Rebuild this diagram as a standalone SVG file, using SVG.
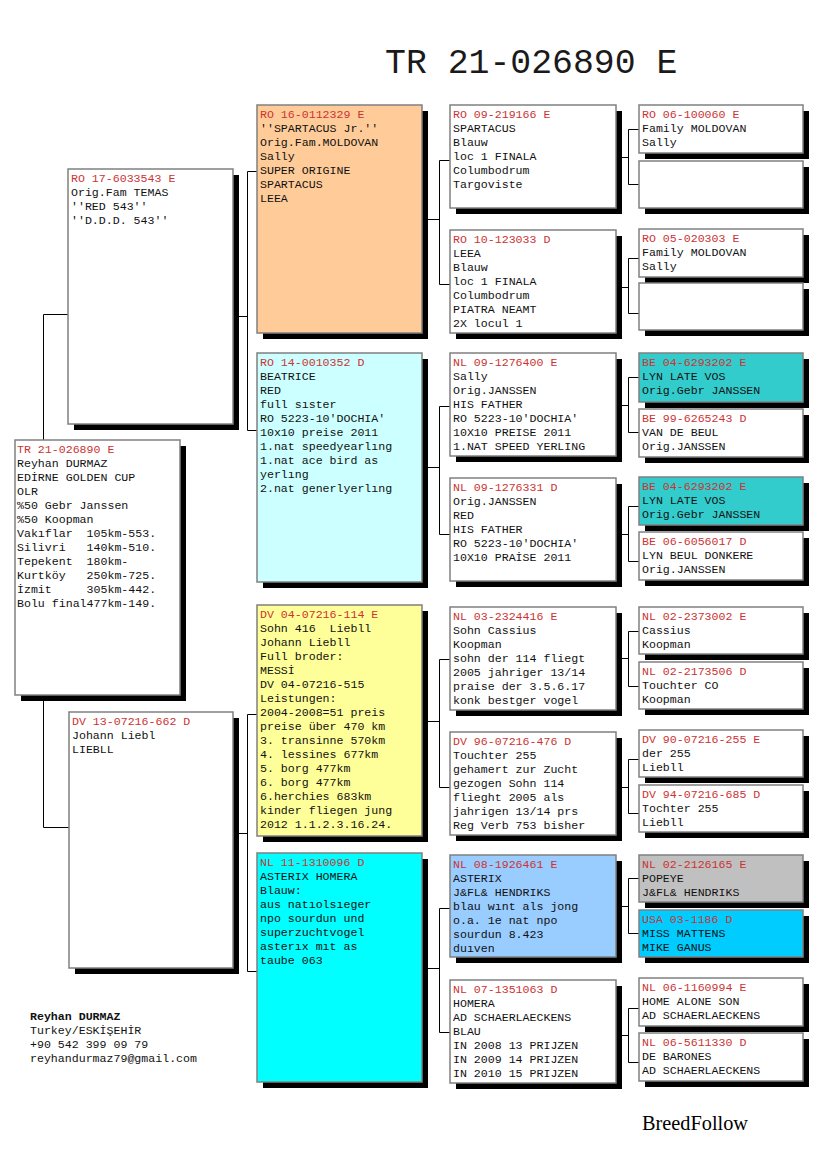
<svg xmlns="http://www.w3.org/2000/svg" width="825" height="1172" viewBox="0 0 825 1172">
<style>
.sh{fill:#000}
.bx{stroke:#808080;stroke-width:1.5;fill:#fff}
.t{font-family:"Liberation Mono","Courier New",monospace;font-size:11.6px;fill:#111;white-space:pre}
.r{fill:#cc3333}
.c{stroke:#000;stroke-width:1;fill:none}
.title{font-family:"Liberation Mono","Courier New",monospace;font-size:34.8px;fill:#1a1a1a}
.brand{font-family:"Liberation Serif","Times New Roman",serif;font-size:20px;fill:#000}
</style>
<rect width="825" height="1172" fill="#fff"/>
<text class="title" x="385" y="73">TR 21-026890 E</text>

<g id="connectors">
<path class="c" d="M68,314.5H43.5V827.5H69"/>
<path class="c" d="M239,316.5H247.5 M257,171.5H247.5V430.5H257"/>
<path class="c" d="M239,833.5H247.5 M257,714.5H247.5V971.5H257"/>
<path class="c" d="M428,219.5H439.5 M450,160.5H439.5V284.5H450"/>
<path class="c" d="M428,467.5H439.5 M450,406.5H439.5V534.5H450"/>
<path class="c" d="M428,721.5H439.5 M450,659.5H439.5V787.5H450"/>
<path class="c" d="M428,968.5H439.5 M450,908.5H439.5V1032.5H450"/>
<path class="c" d="M621,157.5H628.5 M639,129.5H628.5V184.5H639"/>
<path class="c" d="M621,287.5H628.5 M639,258.5H628.5V313.5H639"/>
<path class="c" d="M621,405.5H628.5 M639,377.5H628.5V432.5H639"/>
<path class="c" d="M621,534.5H628.5 M639,506.5H628.5V561.5H639"/>
<path class="c" d="M621,658.5H628.5 M639,631.5H628.5V686.5H639"/>
<path class="c" d="M621,787.5H628.5 M639,759.5H628.5V813.5H639"/>
<path class="c" d="M621,906.5H628.5 M639,878.5H628.5V933.5H639"/>
<path class="c" d="M621,1035.5H628.5 M639,1008.5H628.5V1062.5H639"/>
</g>

<g id="root">
<rect class="sh" x="21" y="446" width="165" height="255"/>
<rect class="bx" x="15" y="440" width="165" height="255"/>
<text class="t" x="17" y="453"><tspan class="r">TR 21-026890 E</tspan><tspan x="17" dy="14">Reyhan DURMAZ</tspan><tspan x="17" dy="14">EDİRNE GOLDEN CUP</tspan><tspan x="17" dy="14">OLR</tspan><tspan x="17" dy="14">%50 Gebr Janssen</tspan><tspan x="17" dy="14">%50 Koopman</tspan><tspan x="17" dy="14">Vakıflar  105km-553.</tspan><tspan x="17" dy="14">Silivri   140km-510.</tspan><tspan x="17" dy="14">Tepekent  180km-</tspan><tspan x="17" dy="14">Kurtköy   250km-725.</tspan><tspan x="17" dy="14">İzmit     305km-442.</tspan><tspan x="17" dy="14">Bolu final477km-149.</tspan></text>
</g>

<g id="sire">
<rect class="sh" x="74" y="175" width="165" height="255"/>
<rect class="bx" x="68" y="169" width="165" height="255"/>
<text class="t" x="71" y="182"><tspan class="r">RO 17-6033543 E</tspan><tspan x="71" dy="14">Orig.Fam TEMAS</tspan><tspan x="71" dy="14">''RED 543''</tspan><tspan x="71" dy="14">''D.D.D. 543''</tspan></text>
</g>

<g id="dam">
<rect class="sh" x="75" y="718" width="164" height="256"/>
<rect class="bx" x="69" y="712" width="164" height="256"/>
<text class="t" x="72" y="725"><tspan class="r">DV 13-07216-662 D</tspan><tspan x="72" dy="14">Johann Liebl</tspan><tspan x="72" dy="14">LIEBLL</tspan></text>
</g>

<g id="ss">
<rect class="sh" x="263" y="111" width="165" height="228"/>
<rect class="bx" x="257" y="105" width="165" height="228" fill="#ffcc99" style="fill:#ffcc99"/>
<text class="t" x="260" y="118"><tspan class="r">RO 16-0112329 E</tspan><tspan x="260" dy="14">''SPARTACUS Jr.''</tspan><tspan x="260" dy="14">Orig.Fam.MOLDOVAN</tspan><tspan x="260" dy="14">Sally</tspan><tspan x="260" dy="14">SUPER ORIGINE</tspan><tspan x="260" dy="14">SPARTACUS</tspan><tspan x="260" dy="14">LEEA</tspan></text>
</g>

<g id="sd">
<rect class="sh" x="263" y="359" width="165" height="229"/>
<rect class="bx" x="257" y="353" width="165" height="229" style="fill:#ccffff"/>
<text class="t" x="260" y="366"><tspan class="r">RO 14-0010352 D</tspan><tspan x="260" dy="14">BEATRICE</tspan><tspan x="260" dy="14">RED</tspan><tspan x="260" dy="14">full sıster</tspan><tspan x="260" dy="14">RO 5223-10'DOCHIA'</tspan><tspan x="260" dy="14">10x10 preise 2011</tspan><tspan x="260" dy="14">1.nat speedyearlıng</tspan><tspan x="260" dy="14">1.nat ace bird as</tspan><tspan x="260" dy="14">yerlıng</tspan><tspan x="260" dy="14">2.nat generlyerlıng</tspan></text>
</g>

<g id="ds">
<rect class="sh" x="263" y="611" width="165" height="231"/>
<rect class="bx" x="257" y="605" width="165" height="231" style="fill:#ffff99"/>
<text class="t" x="260" y="618"><tspan class="r">DV 04-07216-114 E</tspan><tspan x="260" dy="14">Sohn 416  Liebll</tspan><tspan x="260" dy="14">Johann Liebll</tspan><tspan x="260" dy="14">Full broder:</tspan><tspan x="260" dy="14">MESSİ</tspan><tspan x="260" dy="14">DV 04-07216-515</tspan><tspan x="260" dy="14">Leistungen:</tspan><tspan x="260" dy="14">2004-2008=51 preis</tspan><tspan x="260" dy="14">preise über 470 km</tspan><tspan x="260" dy="14">3. transinne 570km</tspan><tspan x="260" dy="14">4. lessines 677km</tspan><tspan x="260" dy="14">5. borg 477km</tspan><tspan x="260" dy="14">6. borg 477km</tspan><tspan x="260" dy="14">6.herchies 683km</tspan><tspan x="260" dy="14">kinder fliegen jung</tspan><tspan x="260" dy="14">2012 1.1.2.3.16.24.</tspan></text>
</g>

<g id="dd">
<rect class="sh" x="263" y="859" width="165" height="229"/>
<rect class="bx" x="257" y="853" width="165" height="229" style="fill:#00ffff"/>
<text class="t" x="260" y="866"><tspan class="r">NL 11-1310096 D</tspan><tspan x="260" dy="14">ASTERIX HOMERA</tspan><tspan x="260" dy="14">Blauw:</tspan><tspan x="260" dy="14">aus natıolsıeger</tspan><tspan x="260" dy="14">npo sourdun und</tspan><tspan x="260" dy="14">superzuchtvogel</tspan><tspan x="260" dy="14">asterıx mıt as</tspan><tspan x="260" dy="14">taube 063</tspan></text>
</g>

<g id="sss">
<rect class="sh" x="456" y="111" width="166" height="103"/>
<rect class="bx" x="450" y="105" width="166" height="103"/>
<text class="t" x="453" y="118"><tspan class="r">RO 09-219166 E</tspan><tspan x="453" dy="14">SPARTACUS</tspan><tspan x="453" dy="14">Blauw</tspan><tspan x="453" dy="14">loc 1 FINALA</tspan><tspan x="453" dy="14">Columbodrum</tspan><tspan x="453" dy="14">Targoviste</tspan></text>
</g>
<g id="ssd">
<rect class="sh" x="456" y="236" width="166" height="103"/>
<rect class="bx" x="450" y="230" width="166" height="103"/>
<text class="t" x="453" y="243"><tspan class="r">RO 10-123033 D</tspan><tspan x="453" dy="14">LEEA</tspan><tspan x="453" dy="14">Blauw</tspan><tspan x="453" dy="14">loc 1 FINALA</tspan><tspan x="453" dy="14">Columbodrum</tspan><tspan x="453" dy="14">PIATRA NEAMT</tspan><tspan x="453" dy="14">2X locul 1</tspan></text>
</g>
<g id="sds">
<rect class="sh" x="456" y="359" width="166" height="103"/>
<rect class="bx" x="450" y="353" width="166" height="103"/>
<text class="t" x="453" y="366"><tspan class="r">NL 09-1276400 E</tspan><tspan x="453" dy="14">Sally</tspan><tspan x="453" dy="14">Orig.JANSSEN</tspan><tspan x="453" dy="14">HIS FATHER</tspan><tspan x="453" dy="14">RO 5223-10'DOCHIA'</tspan><tspan x="453" dy="14">10X10 PREISE 2011</tspan><tspan x="453" dy="14">1.NAT SPEED YERLING</tspan></text>
</g>
<g id="sdd">
<rect class="sh" x="456" y="484" width="166" height="103"/>
<rect class="bx" x="450" y="478" width="166" height="103"/>
<text class="t" x="453" y="491"><tspan class="r">NL 09-1276331 D</tspan><tspan x="453" dy="14">Orig.JANSSEN</tspan><tspan x="453" dy="14">RED</tspan><tspan x="453" dy="14">HIS FATHER</tspan><tspan x="453" dy="14">RO 5223-10'DOCHIA'</tspan><tspan x="453" dy="14">10X10 PRAİSE 2011</tspan></text>
</g>
<g id="dss">
<rect class="sh" x="456" y="613" width="166" height="103"/>
<rect class="bx" x="450" y="607" width="166" height="103"/>
<text class="t" x="453" y="620"><tspan class="r">NL 03-2324416 E</tspan><tspan x="453" dy="14">Sohn Cassius</tspan><tspan x="453" dy="14">Koopman</tspan><tspan x="453" dy="14">sohn der 114 fliegt</tspan><tspan x="453" dy="14">2005 jahriger 13/14</tspan><tspan x="453" dy="14">praise der 3.5.6.17</tspan><tspan x="453" dy="14">konk bestger vogel</tspan></text>
</g>
<g id="dsd">
<rect class="sh" x="456" y="738" width="166" height="103"/>
<rect class="bx" x="450" y="732" width="166" height="103"/>
<text class="t" x="453" y="745"><tspan class="r">DV 96-07216-476 D</tspan><tspan x="453" dy="14">Touchter 255</tspan><tspan x="453" dy="14">gehamert zur Zucht</tspan><tspan x="453" dy="14">gezogen Sohn 114</tspan><tspan x="453" dy="14">flieght 2005 als</tspan><tspan x="453" dy="14">jahrigen 13/14 prs</tspan><tspan x="453" dy="14">Reg Verb 753 bisher</tspan></text>
</g>
<g id="dds">
<rect class="sh" x="456" y="861" width="166" height="102"/>
<rect class="bx" x="450" y="855" width="166" height="102" style="fill:#99ccff"/>
<text class="t" x="453" y="868"><tspan class="r">NL 08-1926461 E</tspan><tspan x="453" dy="14">ASTERIX</tspan><tspan x="453" dy="14">J&amp;FL&amp; HENDRIKS</tspan><tspan x="453" dy="14">blau wınt als jong</tspan><tspan x="453" dy="14">o.a. 1e nat npo</tspan><tspan x="453" dy="14">sourdun 8.423</tspan><tspan x="453" dy="14">duıven</tspan></text>
</g>
<g id="ddd">
<rect class="sh" x="456" y="986" width="166" height="103"/>
<rect class="bx" x="450" y="980" width="166" height="103"/>
<text class="t" x="453" y="993"><tspan class="r">NL 07-1351063 D</tspan><tspan x="453" dy="14">HOMERA</tspan><tspan x="453" dy="14">AD SCHAERLAECKENS</tspan><tspan x="453" dy="14">BLAU</tspan><tspan x="453" dy="14">IN 2008 13 PRIJZEN</tspan><tspan x="453" dy="14">IN 2009 14 PRIJZEN</tspan><tspan x="453" dy="14">IN 2010 15 PRIJZEN</tspan></text>
</g>

<g id="ssss">
<rect class="sh" x="645" y="111" width="164" height="48"/>
<rect class="bx" x="639" y="105" width="164" height="48"/>
<text class="t" x="642" y="118"><tspan class="r">RO 06-100060 E</tspan><tspan x="642" dy="14">Family MOLDOVAN</tspan><tspan x="642" dy="14">Sally</tspan></text>
</g>
<g id="sssd">
<rect class="sh" x="645" y="167" width="164" height="47"/>
<rect class="bx" x="639" y="161" width="164" height="47"/>
</g>
<g id="ssds">
<rect class="sh" x="645" y="235" width="164" height="48"/>
<rect class="bx" x="639" y="229" width="164" height="48"/>
<text class="t" x="642" y="242"><tspan class="r">RO 05-020303 E</tspan><tspan x="642" dy="14">Family MOLDOVAN</tspan><tspan x="642" dy="14">Sally</tspan></text>
</g>
<g id="ssdd">
<rect class="sh" x="645" y="289" width="164" height="47"/>
<rect class="bx" x="639" y="283" width="164" height="47"/>
</g>
<g id="sdss">
<rect class="sh" x="645" y="359" width="164" height="49"/>
<rect class="bx" x="639" y="353" width="164" height="49" style="fill:#33cccc"/>
<text class="t" x="642" y="366"><tspan class="r">BE 04-6293202 E</tspan><tspan x="642" dy="14">LYN LATE VOS</tspan><tspan x="642" dy="14">Orig.Gebr JANSSEN</tspan></text>
</g>
<g id="sdsd">
<rect class="sh" x="645" y="415" width="164" height="48"/>
<rect class="bx" x="639" y="409" width="164" height="48"/>
<text class="t" x="642" y="422"><tspan class="r">BE 99-6265243 D</tspan><tspan x="642" dy="14">VAN DE BEUL</tspan><tspan x="642" dy="14">Orig.JANSSEN</tspan></text>
</g>
<g id="sdds">
<rect class="sh" x="645" y="483" width="164" height="48"/>
<rect class="bx" x="639" y="477" width="164" height="48" style="fill:#33cccc"/>
<text class="t" x="642" y="490"><tspan class="r">BE 04-6293202 E</tspan><tspan x="642" dy="14">LYN LATE VOS</tspan><tspan x="642" dy="14">Orig.Gebr JANSSEN</tspan></text>
</g>
<g id="sddd">
<rect class="sh" x="645" y="538" width="164" height="48"/>
<rect class="bx" x="639" y="532" width="164" height="48"/>
<text class="t" x="642" y="545"><tspan class="r">BE 06-6056017 D</tspan><tspan x="642" dy="14">LYN BEUL DONKERE</tspan><tspan x="642" dy="14">Orig.JANSSEN</tspan></text>
</g>
<g id="dsss">
<rect class="sh" x="645" y="613" width="164" height="47"/>
<rect class="bx" x="639" y="607" width="164" height="47"/>
<text class="t" x="642" y="620"><tspan class="r">NL 02-2373002 E</tspan><tspan x="642" dy="14">Cassius</tspan><tspan x="642" dy="14">Koopman</tspan></text>
</g>
<g id="dssd">
<rect class="sh" x="645" y="668" width="164" height="47"/>
<rect class="bx" x="639" y="662" width="164" height="47"/>
<text class="t" x="642" y="675"><tspan class="r">NL 02-2173506 D</tspan><tspan x="642" dy="14">Touchter CO</tspan><tspan x="642" dy="14">Koopman</tspan></text>
</g>
<g id="dsds">
<rect class="sh" x="645" y="736" width="164" height="47"/>
<rect class="bx" x="639" y="730" width="164" height="47"/>
<text class="t" x="642" y="743"><tspan class="r">DV 90-07216-255 E</tspan><tspan x="642" dy="14">der 255</tspan><tspan x="642" dy="14">Liebll</tspan></text>
</g>
<g id="dsdd">
<rect class="sh" x="645" y="791" width="164" height="47"/>
<rect class="bx" x="639" y="785" width="164" height="47"/>
<text class="t" x="642" y="798"><tspan class="r">DV 94-07216-685 D</tspan><tspan x="642" dy="14">Tochter 255</tspan><tspan x="642" dy="14">Liebll</tspan></text>
</g>
<g id="ddss">
<rect class="sh" x="645" y="861" width="164" height="47"/>
<rect class="bx" x="639" y="855" width="164" height="47" style="fill:#c0c0c0"/>
<text class="t" x="642" y="868"><tspan class="r">NL 02-2126165 E</tspan><tspan x="642" dy="14">POPEYE</tspan><tspan x="642" dy="14">J&amp;FL&amp; HENDRIKS</tspan></text>
</g>
<g id="ddsd">
<rect class="sh" x="645" y="916" width="164" height="47"/>
<rect class="bx" x="639" y="910" width="164" height="47" style="fill:#00ccff"/>
<text class="t" x="642" y="923"><tspan class="r">USA 03-1186 D</tspan><tspan x="642" dy="14">MISS MATTENS</tspan><tspan x="642" dy="14">MIKE GANUS</tspan></text>
</g>
<g id="ddds">
<rect class="sh" x="645" y="984" width="164" height="48"/>
<rect class="bx" x="639" y="978" width="164" height="48"/>
<text class="t" x="642" y="991"><tspan class="r">NL 06-1160994 E</tspan><tspan x="642" dy="14">HOME ALONE SON</tspan><tspan x="642" dy="14">AD SCHAERLAECKENS</tspan></text>
</g>
<g id="dddd">
<rect class="sh" x="645" y="1039" width="164" height="48"/>
<rect class="bx" x="639" y="1033" width="164" height="48"/>
<text class="t" x="642" y="1046"><tspan class="r">NL 06-5611330 D</tspan><tspan x="642" dy="14">DE BARONES</tspan><tspan x="642" dy="14">AD SCHAERLAECKENS</tspan></text>
</g>

<g id="footer">
<text class="t" x="30" y="1020"><tspan font-weight="bold">Reyhan DURMAZ</tspan><tspan x="30" dy="14">Turkey/ESKİŞEHİR</tspan><tspan x="30" dy="14">+90 542 399 09 79</tspan><tspan x="30" dy="14">reyhandurmaz79@gmail.com</tspan></text>
<text class="brand" x="642" y="1130" textLength="106" lengthAdjust="spacingAndGlyphs">BreedFollow</text>
</g>
</svg>
